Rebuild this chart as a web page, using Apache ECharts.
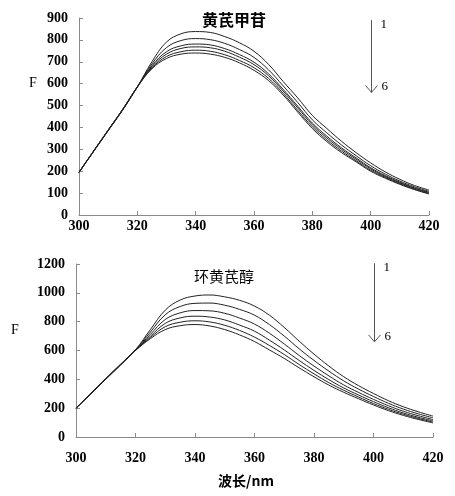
<!DOCTYPE html>
<html><head><meta charset="utf-8">
<script src="https://cdn.jsdelivr.net/npm/echarts@6/dist/echarts.min.js"></script>
<style>html,body{margin:0;padding:0;background:#fff}#c{width:455px;height:496px}</style>
</head><body><div id="c"></div>
<script>
// wavelengths (nm)
const wavelengths = [300,305,310,315,320,325,330,335,340,345,350,355,360,365,370,375,380,385,390,395,400,405,410,415,420];
// top panel: 黄芪甲苷, curves 1..6
const topC1 = [195,290,385,480,585,700,790,828,838,834,815,787,748,688,610,535,455,395,337,285,238,197,163,135,114];
const topC2 = [195,291,386,481,585,690,765,797,806,801,784,756,720,663,590,514,435,375,320,271,225,187,155,129,108];
const topC3 = [195,291,387,482,585,682,746,773,781,777,760,733,698,645,574,497,420,360,307,261,216,180,150,124,104];
const topC4 = [195,292,387,482,585,677,735,761,768,764,748,721,687,636,566,489,412,352,300,255,211,176,147,122,101];
const topC5 = [195,292,388,483,585,672,724,746,753,748,732,706,673,624,556,478,403,343,292,248,205,172,143,118,98];
const topC6 = [195,292,388,483,585,668,715,735,740,735,720,695,661,614,548,470,395,335,285,243,200,168,140,116,96];
// bottom panel: 环黄芪醇, curves 1..6
const botC1 = [200,300,400,500,605,745,880,950,978,985,972,948,908,845,760,665,575,492,418,356,302,252,210,175,145];
const botC2 = [200,300,401,501,604,728,848,905,927,929,914,885,845,780,700,612,531,457,389,332,281,234,194,161,133];
const botC3 = [200,301,402,502,603,712,815,861,877,875,858,825,783,720,645,566,492,424,361,309,261,217,179,148,121];
const botC4 = [200,301,403,503,602,699,788,826,838,832,812,776,734,672,604,531,462,398,340,291,245,203,167,137,112];
const botC5 = [200,302,404,504,601,690,765,796,806,798,775,739,693,635,572,503,438,377,324,277,232,192,158,129,104];
const botC6 = [200,302,405,505,600,682,745,772,780,770,745,708,662,604,545,480,418,360,310,265,222,183,150,122,98];
const topSeries = [topC1, topC2, topC3, topC4, topC5, topC6];
const botSeries = [botC1, botC2, botC3, botC4, botC5, botC6];
const xTicks = {min:300, max:420, interval:20};
const topY = {min:0, max:900, interval:100};
const botY = {min:0, max:1200, interval:200};

const chart = echarts.init(document.getElementById('c'), null, {renderer:'canvas'});
const axisCol = '#8a8a8a';
const lblFont = {color:'#000', fontFamily:'"Liberation Serif", "Times New Roman", serif', fontWeight:'bold', fontSize:14,
  formatter:function(v){return String(v);}};
function xAx(gi, margin){
  return {type:'value', gridIndex:gi, min:xTicks.min, max:xTicks.max, interval:xTicks.interval,
    axisLine:{lineStyle:{color:axisCol, width:1}}, axisTick:{inside:true, length:4, lineStyle:{color:axisCol}},
    axisLabel:Object.assign({margin:margin}, lblFont), splitLine:{show:false}};
}
function yAx(gi, y, margin){
  return {type:'value', gridIndex:gi, min:y.min, max:y.max, interval:y.interval,
    axisLine:{show:true, lineStyle:{color:axisCol, width:1}}, axisTick:{show:true, inside:true, length:4, lineStyle:{color:axisCol}},
    axisLabel:Object.assign({margin:margin}, lblFont), splitLine:{show:false}};
}
const series = [];
topSeries.forEach(arr => series.push({type:'line', xAxisIndex:0, yAxisIndex:0, smooth:0.4, symbol:'none',
  lineStyle:{color:'#222', width:1}, data:wavelengths.map((w,i)=>[w, arr[i]]), silent:true}));
botSeries.forEach(arr => series.push({type:'line', xAxisIndex:1, yAxisIndex:1, smooth:0.4, symbol:'none',
  lineStyle:{color:'#222', width:1}, data:wavelengths.map((w,i)=>[w, arr[i]]), silent:true}));

chart.setOption({
  animation:false,
  backgroundColor:'#fff',
  title:[
    {text:'黄芪甲苷', left:197, top:7, textStyle:{fontFamily:'Noto Sans CJK SC', fontWeight:'bold', fontSize:16, color:'#000'}},
    {text:'环黄芪醇', left:189, top:264, textStyle:{fontFamily:'Noto Sans CJK SC', fontWeight:'normal', fontSize:15, color:'#000'}}
  ],
  grid:[
    {left:79, right:26, top:18, bottom:281},
    {left:76, right:22, top:264, bottom:59}
  ],
  xAxis:[xAx(0,4), xAx(1,14)],
  yAxis:[yAx(0, topY, 11), yAx(1, botY, 11)],
  series:series
});

function arrowGraphics(gi, xv, y1, y2){
  const p1 = chart.convertToPixel({gridIndex:gi}, [xv, y1]);
  const p2 = chart.convertToPixel({gridIndex:gi}, [xv, y2]);
  const x = Math.round(p1[0]) + 0.5;
  return [
    {type:'line', shape:{x1:x, y1:p1[1], x2:x, y2:p2[1]}, style:{stroke:'#555', lineWidth:1}},
    {type:'polyline', shape:{points:[[x-6, p2[1]-7],[x, p2[1]],[x+6, p2[1]-7]]}, style:{stroke:'#555', lineWidth:1, fill:null}},
    {type:'text', x:x+9, y:p1[1]-2, style:{text:'1', font:'13px "Liberation Serif"', fill:'#000'}},
    {type:'text', x:x+10, y:p2[1]-12, style:{text:'6', font:'13px "Liberation Serif"', fill:'#000'}}
  ];
}
const g = [].concat(arrowGraphics(0, 400, 890, 560), arrowGraphics(1, 400, 1205, 660));
g.push({type:'text', x:29, y:76, style:{text:'F', font:'14px "Liberation Serif"', fill:'#000'}});
g.push({type:'text', x:11, y:323, style:{text:'F', font:'14px "Liberation Serif"', fill:'#000'}});
g.push({type:'text', x:218, y:474, style:{text:'波长/nm', font:'bold 14px "Noto Sans CJK SC"', fill:'#000'}});
chart.setOption({graphic:g});
</script>
</body></html>
